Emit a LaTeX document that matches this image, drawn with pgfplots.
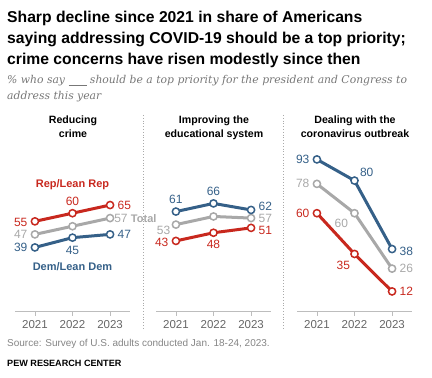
\documentclass[border=0pt]{standalone}
\usepackage{pgfplots}
\pgfplotsset{compat=1.18}
\usepackage{fontspec}
\setmainfont{Liberation Sans}
\newfontfamily\subfont{DejaVu Serif}
\definecolor{rep}{HTML}{C8281E}
\definecolor{dem}{HTML}{356088}
\definecolor{tot}{HTML}{A8A8A8}
\definecolor{axgray}{HTML}{BDBDBD}
\definecolor{labgray}{HTML}{666666}
\definecolor{subgray}{HTML}{777777}
\pgfplotsset{
  panel/.style={
    scale only axis, width=115pt, height=163pt,
    xmin=2020.47, xmax=2023.53, ymin=0, ymax=100,
    axis y line=none, axis x line*=bottom,
    x axis line style={draw=axgray, line width=0.8pt},
    xtick={2021,2022,2023}, xticklabels={2021,2022,2023},
    xtick align=outside, major tick length=5pt,
    x tick style={draw=axgray, line width=0.8pt},
    xticklabel style={font=\fontsize{11.5}{12}\selectfont, text=labgray, yshift=-1pt},
    clip=false,
  },
  ser/.style={line width=3pt, color=#1, mark=*, mark size=3.6pt,
    mark options={fill=white, draw=#1, line width=1.5pt}},
}
\tikzset{dl/.style={font=\fontsize{12}{12}\selectfont, inner sep=1pt, text=#1}}
\begin{document}
\begin{tikzpicture}[x=1pt,y=1pt]
\useasboundingbox (0,0) rectangle (432,378);
% titles
\node[anchor=base west, inner sep=0, font=\bfseries\fontsize{15.7}{16}\selectfont] at (7,378-23) {Sharp decline since 2021 in share of Americans};
\node[anchor=base west, inner sep=0, font=\bfseries\fontsize{15.7}{16}\selectfont] at (7,378-44) {saying addressing COVID-19 should be a top priority;};
\node[anchor=base west, inner sep=0, font=\bfseries\fontsize{15.7}{16}\selectfont] at (7,378-65) {crime concerns have risen modestly since then};
\node[anchor=base west, inner sep=0, text=subgray, font=\subfont\itshape\fontsize{10.8}{13}\selectfont] at (7,378-84) {\% who say \underline{\hspace{18pt}} should be a top priority for the president and Congress to};
\node[anchor=base west, inner sep=0, text=subgray, font=\subfont\itshape\fontsize{10.8}{13}\selectfont] at (7,378-100) {address this year};
% panel titles
\node[align=center, font=\bfseries\fontsize{10.6}{14}\selectfont, anchor=base] at (73,378-138) {Reducing\\crime};
\node[align=center, font=\bfseries\fontsize{10.6}{14}\selectfont, anchor=base] at (214,378-138) {Improving the\\educational system};
\node[align=center, font=\bfseries\fontsize{10.6}{14}\selectfont, anchor=base] at (355,378-138) {Dealing with the\\coronavirus outbreak};
% separators
\draw[axgray!90!black, dotted, line width=0.8pt] (143,378-115) -- (143,378-330);
\draw[axgray!90!black, dotted, line width=0.8pt] (283,378-115) -- (283,378-330);
% footer
\node[anchor=base west, inner sep=0, text=labgray!80, font=\fontsize{10}{11}\selectfont] at (7,378-347) {Source: Survey of U.S. adults conducted Jan. 18-24, 2023.};
\node[anchor=base west, inner sep=0, font=\bfseries\fontsize{9.1}{11}\selectfont] at (7,378-367) {PEW RESEARCH CENTER};

% Panel 1: crime
\begin{axis}[panel, at={(15pt,67pt)}, anchor=south west]
\addplot[ser=rep] coordinates {(2021,55) (2022,60) (2023,65)};
\addplot[ser=tot] coordinates {(2021,47) (2022,52) (2023,57)};
\addplot[ser=dem] coordinates {(2021,39) (2022,45) (2023,47)};
\node[dl=rep, anchor=east, xshift=-6.3pt, yshift=-1pt] at (axis cs:2021,55) {55};
\node[dl=rep, anchor=south, yshift=6.3pt] at (axis cs:2022,60) {60};
\node[dl=rep, anchor=west, xshift=6.3pt] at (axis cs:2023,65) {65};
\node[dl=tot, anchor=east, xshift=-6.3pt] at (axis cs:2021,47) {47};
\node[dl=tot, anchor=west, xshift=4pt, inner sep=0pt] at (axis cs:2023,57) {57 {\bfseries\fontsize{11}{12}\selectfont Total}};
\node[dl=dem, anchor=east, xshift=-6.3pt] at (axis cs:2021,39) {39};
\node[dl=dem, anchor=north, yshift=-7.3pt] at (axis cs:2022,45) {45};
\node[dl=dem, anchor=west, xshift=6.3pt] at (axis cs:2023,47) {47};
\node[text=rep, font=\bfseries\fontsize{11}{12}\selectfont] at (axis cs:2022,77.5) {Rep/Lean Rep};
\node[text=dem, font=\bfseries\fontsize{11}{12}\selectfont] at (axis cs:2022,27.5) {Dem/Lean Dem};
\end{axis}

% Panel 2: education
\begin{axis}[panel, at={(156pt,67pt)}, anchor=south west]
\addplot[ser=rep] coordinates {(2021,43) (2022,48) (2023,51)};
\addplot[ser=tot] coordinates {(2021,53) (2022,58) (2023,57)};
\addplot[ser=dem] coordinates {(2021,61) (2022,66) (2023,62)};
\node[dl=dem, anchor=south, yshift=6.3pt] at (axis cs:2021,61) {61};
\node[dl=dem, anchor=south, yshift=6.3pt] at (axis cs:2022,66) {66};
\node[dl=dem, anchor=west, xshift=6.3pt, yshift=3.5pt] at (axis cs:2023,62) {62};
\node[dl=tot, anchor=north east, xshift=-4.5pt, yshift=0pt] at (axis cs:2021,53) {53};
\node[dl=tot, anchor=west, xshift=6.3pt, yshift=-0.5pt] at (axis cs:2023,57) {57};
\node[dl=rep, anchor=east, xshift=-6.3pt, yshift=-1pt] at (axis cs:2021,43) {43};
\node[dl=rep, anchor=north, yshift=-6.3pt] at (axis cs:2022,48) {48};
\node[dl=rep, anchor=west, xshift=6.3pt, yshift=-2.5pt] at (axis cs:2023,51) {51};
\end{axis}

% Panel 3: coronavirus
\begin{axis}[panel, at={(297pt,67pt)}, anchor=south west]
\addplot[ser=rep] coordinates {(2021,60) (2022,35) (2023,12)};
\addplot[ser=tot] coordinates {(2021,78) (2022,60) (2023,26)};
\addplot[ser=dem] coordinates {(2021,93) (2022,80) (2023,38)};
\node[dl=dem, anchor=east, xshift=-6.3pt] at (axis cs:2021,93) {93};
\node[dl=dem, anchor=south west, xshift=4.3pt, yshift=2.3pt] at (axis cs:2022,80) {80};
\node[dl=dem, anchor=west, xshift=6.3pt, yshift=-2pt] at (axis cs:2023,38) {38};
\node[dl=tot, anchor=east, xshift=-6.3pt] at (axis cs:2021,78) {78};
\node[dl=tot, anchor=north east, xshift=-5.3pt, yshift=-4.3pt] at (axis cs:2022,60) {60};
\node[dl=tot, anchor=west, xshift=6.3pt] at (axis cs:2023,26) {26};
\node[dl=rep, anchor=east, xshift=-6.3pt] at (axis cs:2021,60) {60};
\node[dl=rep, anchor=north east, xshift=-3.3pt, yshift=-6.3pt] at (axis cs:2022,35) {35};
\node[dl=rep, anchor=west, xshift=6.3pt] at (axis cs:2023,12) {12};
\end{axis}
\end{tikzpicture}
\end{document}
